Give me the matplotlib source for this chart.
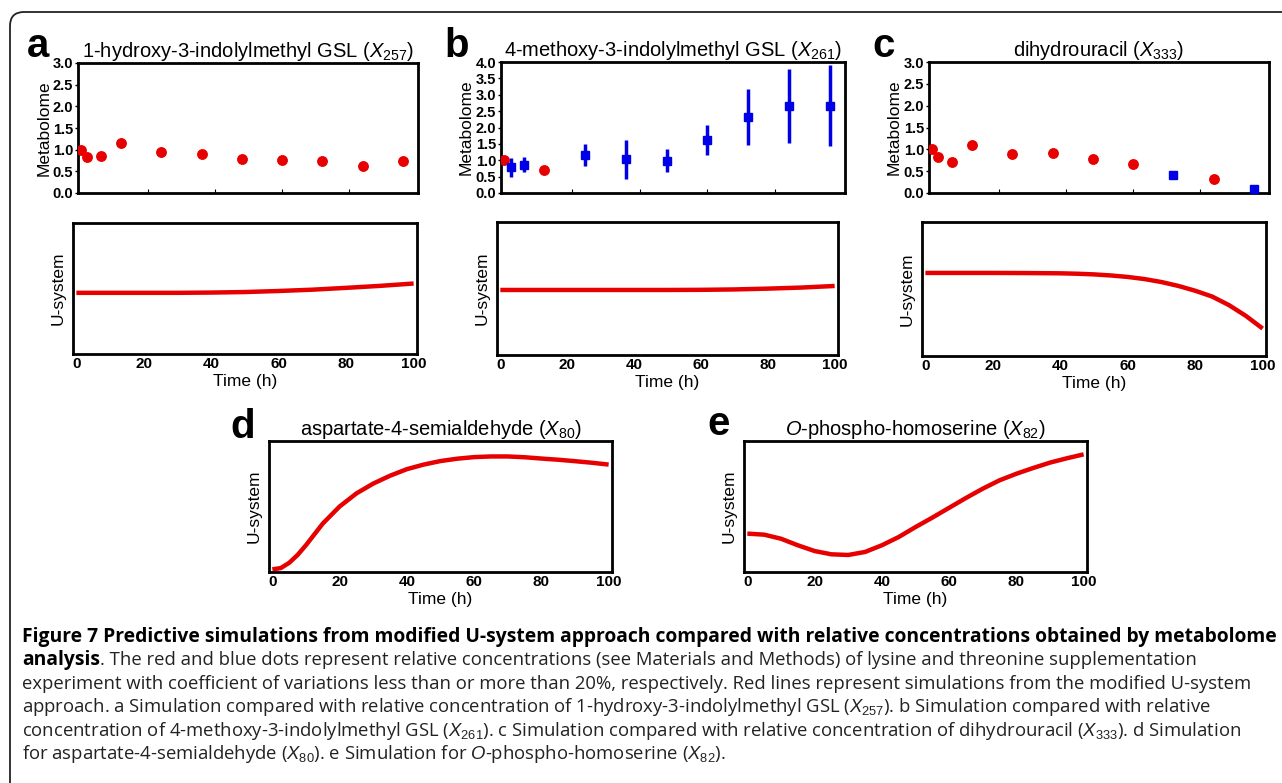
import matplotlib
matplotlib.use("Agg")
import matplotlib.pyplot as plt
from matplotlib.patches import FancyBboxPatch
from matplotlib.transforms import IdentityTransform

plt.rcParams['font.family'] = ['Liberation Sans', 'DejaVu Sans']
plt.rcParams['mathtext.fontset'] = 'custom'
plt.rcParams['mathtext.rm'] = 'Liberation Sans'
plt.rcParams['mathtext.it'] = 'Liberation Sans:italic'

W, H = 1282, 783
RED = '#e60000'
BLUE = '#0000e6'

# metabolome sampling times (h)
times = [0, 2, 6, 12, 24, 36, 48, 60, 72, 84, 96]

# panel a: 1-hydroxy-3-indolylmethyl GSL
a_vals = [1.00, 0.83, 0.85, 1.15, 0.94, 0.91, 0.78, 0.76, 0.75, 0.63, 0.75]
a_err = [0.03, 0.04, 0.10, 0.04, 0.06, 0.05, 0.04, 0.10, 0.04, 0.05, 0.04]
a_high = [False] * 11

# panel b: 4-methoxy-3-indolylmethyl GSL
b_vals = [1.00, 0.79, 0.87, 0.69, 1.16, 1.03, 0.99, 1.62, 2.32, 2.67, 2.66]
b_err = [0.02, 0.29, 0.24, 0.02, 0.34, 0.59, 0.36, 0.46, 0.85, 1.13, 1.24]
b_high = [False, True, True, False, True, True, True, True, True, True, True]

# panel c: dihydrouracil
c_vals = [1.00, 0.83, 0.71, 1.11, 0.89, 0.91, 0.78, 0.66, 0.42, 0.32, 0.09]
c_err = [0.03, 0.03, 0.03, 0.03, 0.03, 0.03, 0.03, 0.03, 0.03, 0.03, 0.02]
c_high = [False] * 8 + [True, False, True]

# U-system simulations (relative height in panel)
u_t = [0, 10, 20, 30, 40, 50, 60, 70, 80, 90, 100]
ua = [0.467, 0.467, 0.467, 0.467, 0.469, 0.473, 0.481, 0.491, 0.505, 0.520, 0.538]
ub = [0.489, 0.489, 0.489, 0.489, 0.489, 0.489, 0.490, 0.493, 0.499, 0.507, 0.519]

c_t = [0, 10, 20, 30, 40, 45, 50, 55, 60, 65, 70, 75, 80, 85, 90, 95, 100]
uc = [0.620, 0.620, 0.620, 0.619, 0.617, 0.614, 0.609, 0.601, 0.590, 0.574,
      0.552, 0.523, 0.487, 0.444, 0.380, 0.300, 0.205]

d_t = [0, 2.5, 5, 7.5, 10, 15, 20, 25, 30, 35, 40, 45, 50, 55, 60, 65, 70, 75,
       80, 85, 90, 95, 100]
ud = [0.02, 0.03, 0.07, 0.13, 0.205, 0.37, 0.50, 0.60, 0.675, 0.735, 0.785,
      0.82, 0.847, 0.865, 0.877, 0.882, 0.882, 0.876, 0.866, 0.857, 0.846,
      0.834, 0.82]

e_t = [0, 5, 10, 15, 20, 25, 30, 35, 40, 45, 50, 55, 60, 65, 70, 75, 80, 85,
       90, 95, 100]
ue = [0.293, 0.285, 0.254, 0.204, 0.160, 0.135, 0.130, 0.153, 0.204, 0.267,
      0.343, 0.415, 0.490, 0.565, 0.636, 0.700, 0.750, 0.794, 0.835, 0.868,
      0.898]

x_ticks = [0, 20, 40, 60, 80, 100]

fig = plt.figure(figsize=(W / 100, H / 100), dpi=100)


def add_ax(l, r, t, b):
    ax = fig.add_axes([l / W, 1 - b / H, (r - l) / W, (b - t) / H])
    for s in ax.spines.values():
        s.set_linewidth(2.0)
    return ax


def metab(ax, vals, err, high, ymax, title):
    for t, v, e, h in zip(times, vals, err, high):
        if h:
            ax.errorbar(t, v, yerr=e, fmt='s', color=BLUE, ms=6, elinewidth=2.5,
                        capsize=0, zorder=3)
        else:
            ax.errorbar(t, v, yerr=e, fmt='o', color=RED, ecolor='#f08080', ms=6.8,
                        elinewidth=1.3, capsize=0, zorder=3)
    ax.set_xlim(-0.8, 100.5)
    ax.set_ylim(0, ymax)
    ax.set_yticks([i * 0.5 for i in range(int(ymax * 2) + 1)])
    ax.set_xticks([20, 40, 60, 80])
    ax.tick_params(axis='x', direction='in', length=3, labelbottom=False)
    ax.tick_params(axis='y', direction='out', length=2.5, width=1, pad=1,
                   labelsize=10.5)
    for lab in ax.get_yticklabels():
        lab.set_fontweight('bold')
    ax.set_ylabel('Metabolome', fontsize=12.5, labelpad=1)
    ax.set_title(title, fontsize=14.5, pad=4)


def usys(ax, t, u, title=None):
    ax.plot(t, u, color=RED, lw=3.2, solid_capstyle='butt')
    ax.set_xlim(-1.0, 101)
    ax.set_ylim(0, 1)
    ax.set_yticks([])
    ax.set_xticks(x_ticks)
    ax.tick_params(axis='x', direction='in', length=0, pad=2, labelsize=11)
    for lab in ax.get_xticklabels():
        lab.set_fontweight('bold')
    ax.set_xlabel('Time (h)', fontsize=12.5, labelpad=2)
    ax.set_ylabel('U-system', fontsize=12.5, labelpad=5)
    if title:
        ax.set_title(title, fontsize=14.5, pad=4)


ax = add_ax(78, 418, 63, 193)
metab(ax, a_vals, a_err, a_high, 3.0,
      r'1-hydroxy-3-indolylmethyl GSL ($\mathit{X}_{257}$)')
ax = add_ax(501, 845, 62, 193)
metab(ax, b_vals, b_err, b_high, 4.0,
      r'4-methoxy-3-indolylmethyl GSL ($\mathit{X}_{261}$)')
ax = add_ax(929, 1269, 62, 193)
metab(ax, c_vals, c_err, c_high, 3.0, r'dihydrouracil ($\mathit{X}_{333}$)')

usys(add_ax(73, 417, 223, 354), u_t, ua)
usys(add_ax(497, 838, 222, 355), u_t, ub)
usys(add_ax(922, 1266, 222, 356), c_t, uc)
usys(add_ax(269, 612, 441, 572), d_t, ud,
     r'aspartate-4-semialdehyde ($\mathit{X}_{80}$)')
usys(add_ax(744, 1087, 441, 572), e_t, ue,
     r'$\mathit{O}$-phospho-homoserine ($\mathit{X}_{82}$)')

# panel letters
for letter, x, y in [('a', 27, 57), ('b', 444, 57), ('c', 872, 57),
                     ('d', 230, 438), ('e', 707, 435)]:
    fig.text(x / W, 1 - y / H, letter, fontsize=29, fontweight='bold',
             va='baseline', ha='left')

# frame
frame = FancyBboxPatch((10, -60), 1320, H - 12 + 60,
                       boxstyle='round,pad=0,rounding_size=14',
                       transform=IdentityTransform(), fill=False,
                       edgecolor='#222222', lw=1.3)
fig.patches.append(frame)

# caption
cap_font = ['Open Sans', 'DejaVu Sans']
bold_size = 13.9
reg_size = 13.3
x0 = 22 / W
base = [642, 665, 689, 712, 736, 759]

fig.text(x0, 1 - base[0] / H,
         'Figure 7 Predictive simulations from modified U-system approach '
         'compared with relative concentrations obtained by metabolome',
         family=cap_font, fontsize=bold_size, fontweight='bold', va='baseline')
t_bold = fig.text(x0, 1 - base[1] / H, 'analysis', family=cap_font,
                  fontsize=bold_size, fontweight='bold', va='baseline')
fig.canvas.draw()
bb = t_bold.get_window_extent()
fig.text(bb.x1 / W, 1 - base[1] / H,
         '. The red and blue dots represent relative concentrations (see '
         'Materials and Methods) of lysine and threonine supplementation',
         family=cap_font, fontsize=reg_size, va='baseline', color='#222222')
rest = [
    'experiment with coefficient of variations less than or more than 20%, '
    'respectively. Red lines represent simulations from the modified U-system',
    r'approach. a Simulation compared with relative concentration of '
    r'1-hydroxy-3-indolylmethyl GSL ($\mathit{X}_{257}$). b Simulation '
    r'compared with relative',
    r'concentration of 4-methoxy-3-indolylmethyl GSL ($\mathit{X}_{261}$). '
    r'c Simulation compared with relative concentration of dihydrouracil '
    r'($\mathit{X}_{333}$). d Simulation',
    r'for aspartate-4-semialdehyde ($\mathit{X}_{80}$). e Simulation for '
    r'$\mathit{O}$-phospho-homoserine ($\mathit{X}_{82}$).',
]
for line, y in zip(rest, base[2:]):
    fig.text(x0, 1 - y / H, line, family=cap_font, fontsize=reg_size,
             va='baseline', color='#222222')

fig.savefig('out.png', dpi=100)
